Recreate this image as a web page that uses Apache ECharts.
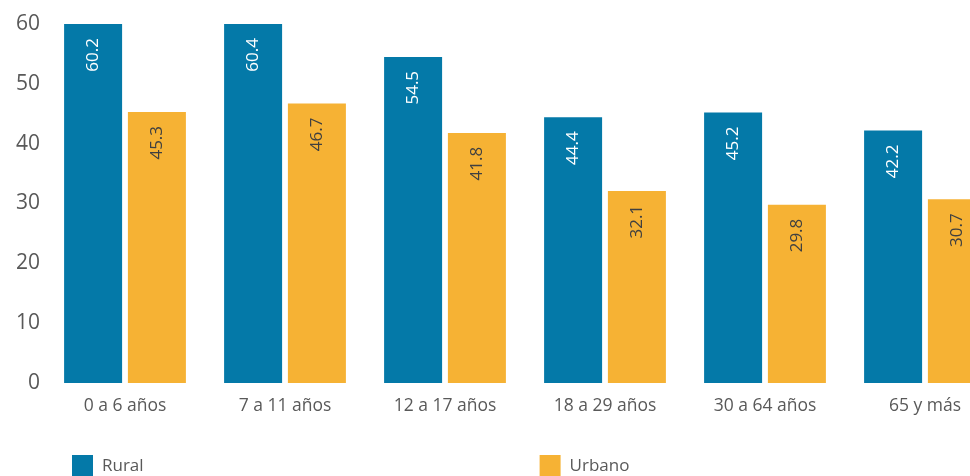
<!DOCTYPE html>
<html>
<head>
<meta charset="utf-8">
<script src="https://cdn.jsdelivr.net/npm/echarts@6/dist/echarts.min.js"></script>
<style>
  html, body { margin: 0; padding: 0; background: #fff; }
  #chart { width: 970px; height: 476px; }
</style>
</head>
<body>
<div id="chart"></div>
<script>
// grupos de edad
const categories = ['0 a 6 años', '7 a 11 años', '12 a 17 años', '18 a 29 años', '30 a 64 años', '65 y más'];
const rural = [60.2, 60.4, 54.5, 44.4, 45.2, 42.2];
const urbano = [45.3, 46.7, 41.8, 32.1, 29.8, 30.7];
const yTicks = [0, 10, 20, 30, 40, 50, 60];

const FONT = '"Open Sans", "Noto Sans", sans-serif';
const gray = '#595959';

const chart = echarts.init(document.getElementById('chart'));

// etiqueta vertical, se lee de abajo hacia arriba
function barLabel(color) {
  return {
    show: true,
    position: 'insideTop',
    rotate: 90,
    align: 'right',
    verticalAlign: 'middle',
    distance: 14,
    color: color,
    fontSize: 17,
    fontFamily: FONT,
    formatter: p => p.value.toFixed(1)
  };
}

chart.setOption({
  animation: false,
  textStyle: { fontFamily: FONT },
  // the last group runs past the right edge in the original
  grid: { left: 45, width: 960, top: 24, bottom: 93, outerBoundsMode: 'none', containLabel: false },
  legend: {
    left: 72,
    top: 455,
    padding: 0,
    itemWidth: 21,
    itemHeight: 22,
    itemGap: 396,
    icon: 'rect',
    textStyle: { color: gray, fontSize: 17, fontFamily: FONT, padding: [7, 0, 0, 4] },
    data: ['Rural', 'Urbano']
  },
  xAxis: {
    type: 'category',
    data: categories,
    axisLine: { show: false },
    axisTick: { show: false },
    axisLabel: { color: gray, fontSize: 17.5, margin: 14, fontFamily: FONT }
  },
  yAxis: {
    type: 'value',
    min: yTicks[0],
    max: yTicks[yTicks.length - 1],
    interval: 10,
    splitLine: { show: false },
    axisLine: { show: false },
    axisTick: { show: false },
    axisLabel: { color: gray, fontSize: 21, margin: 5, fontFamily: FONT }
  },
  series: [
    {
      name: 'Rural',
      type: 'bar',
      data: rural,
      barWidth: 58,
      barGap: '10%',
      itemStyle: { color: '#0479A8' },
      label: barLabel('#ffffff')
    },
    {
      name: 'Urbano',
      type: 'bar',
      data: urbano,
      barWidth: 58,
      itemStyle: { color: '#F6B234' },
      label: barLabel('#404040')
    }
  ]
});
</script>
</body>
</html>
